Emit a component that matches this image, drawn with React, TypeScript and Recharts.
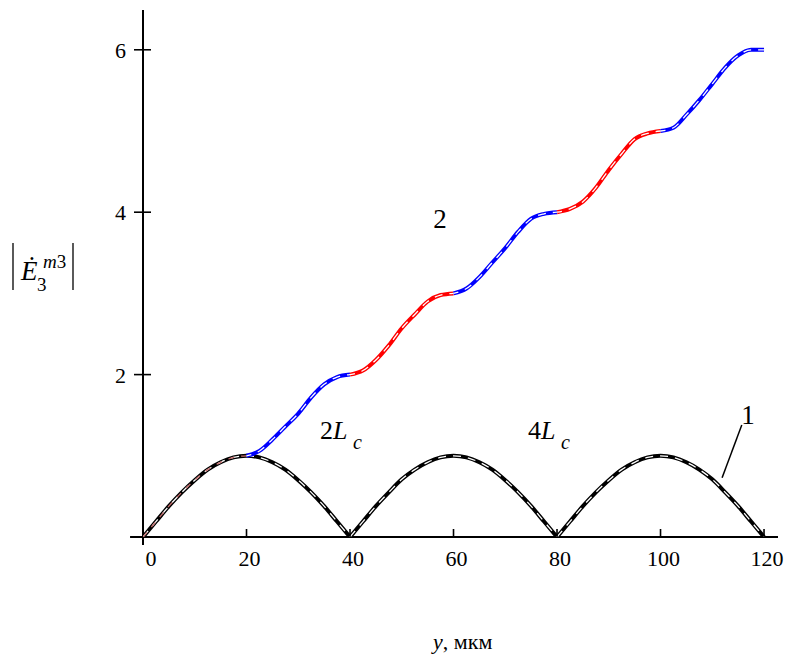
import React from "react";
import { LineChart, Line, XAxis, YAxis, ReferenceLine } from "recharts";

// Sample positions along y (µm)
const yMicrons = [0, 2.5, 5, 7.5, 10, 12.5, 15, 17.5, 20, 22.5, 25, 27.5, 30, 32.5, 35, 37.5, 40, 42.5, 45, 47.5, 50, 52.5, 55, 57.5, 60, 62.5, 65, 67.5, 70, 72.5, 75, 77.5, 80, 82.5, 85, 87.5, 90, 92.5, 95, 97.5, 100, 102.5, 105, 107.5, 110, 112.5, 115, 117.5, 120];

// Curve 1 (arches)
const curve1 = [0, 0.19, 0.38, 0.55, 0.7, 0.83, 0.92, 0.98, 1.0, 0.98, 0.92, 0.83, 0.7, 0.55, 0.38, 0.19, 0, 0.19, 0.38, 0.55, 0.71, 0.83, 0.92, 0.98, 1.0, 0.98, 0.92, 0.83, 0.7, 0.55, 0.38, 0.19, 0, 0.19, 0.38, 0.55, 0.7, 0.83, 0.92, 0.98, 1.0, 0.98, 0.92, 0.83, 0.71, 0.55, 0.38, 0.19, 0];

// Curve 2 (staircase), starts at y = 20
const curve2 = [null, null, null, null, null, null, null, null, 1.0, 1.06, 1.2, 1.36, 1.52, 1.72, 1.88, 1.97, 2.0, 2.05, 2.18, 2.36, 2.57, 2.74, 2.9, 2.98, 3.0, 3.06, 3.2, 3.38, 3.56, 3.76, 3.92, 3.98, 4.0, 4.04, 4.13, 4.3, 4.52, 4.72, 4.9, 4.97, 5.0, 5.04, 5.2, 5.38, 5.58, 5.78, 5.93, 6.0, 6.0];

const xTicks = [0, 20, 40, 60, 80, 100, 120];
const yTicks = [2, 4, 6];
const segColors = ["#0000ff", "#ff0000", "#0000ff", "#ff0000", "#0000ff"];
const archRanges = [[0, 40], [40, 80], [80, 120]];

const FONT = "Liberation Serif, DejaVu Serif, serif";
const serif: React.CSSProperties = { fontFamily: FONT };

const rows = yMicrons.map((y, i) => {
  const row: any = { y };
  archRanges.forEach(([lo, hi], k) => {
    if (y >= lo && y <= hi) row["a" + k] = curve1[i];
  });
  if (y <= 20) row.aPink = curve1[i];
  segColors.forEach((_, k) => {
    const lo = 20 + 20 * k;
    const hi = lo + 20;
    if (y >= lo && y <= hi && curve2[i] != null) row["s" + k] = curve2[i];
  });
  return row;
});

const XTick = (props: any) => {
  const { x, y, payload } = props;
  const dx = payload.value === 0 ? 8 : 3;
  return (
    <g>
      {payload.value !== 0 && (
        <line x1={x} y1={y - 8} x2={x} y2={y} stroke="#000" strokeWidth={1.6} />
      )}
      <text x={x + dx} y={y + 29} textAnchor="middle" fontSize={22} style={serif} fill="#000">
        {payload.value}
      </text>
    </g>
  );
};

const YTick = (props: any) => {
  const { x, y, payload } = props;
  return (
    <g>
      <line x1={x - 9} y1={y} x2={x + 8} y2={y} stroke="#000" strokeWidth={1.6} />
      <text x={x - 17} y={y + 8} textAnchor="end" fontSize={22} style={serif} fill="#000">
        {payload.value}
      </text>
    </g>
  );
};

export default function App() {
  const mainW = 4;
  const dashW = 1.3;
  return (
    <div style={{ position: "absolute", left: 0, top: 0, width: 808, height: 657, background: "#fff", fontFamily: FONT }}>
      <LineChart width={808} height={657} data={rows} margin={{ top: 10, right: 30, left: 83, bottom: 90 }}>
        <XAxis
          dataKey="y"
          type="number"
          domain={[0, 122.7]}
          ticks={xTicks}
          axisLine={false}
          tickLine={false}
          tickSize={0}
          tickMargin={0}
          tick={<XTick />}
          height={30}
          allowDataOverflow
        />
        <YAxis
          type="number"
          domain={[0, 6.49]}
          ticks={yTicks}
          axisLine={false}
          tickLine={false}
          tickSize={0}
          tickMargin={0}
          tick={<YTick />}
          width={60}
          allowDataOverflow
        />
        <ReferenceLine segment={[{ x: -2.5, y: 0 }, { x: 122.7, y: 0 }]} stroke="#000" strokeWidth={2} ifOverflow="visible" />
        <ReferenceLine segment={[{ x: 0, y: -0.1 }, { x: 0, y: 6.49 }]} stroke="#000" strokeWidth={2} ifOverflow="visible" />
        <ReferenceLine segment={[{ x: 111.9, y: 0.73 }, { x: 115.7, y: 1.38 }]} stroke="#000" strokeWidth={1.5} ifOverflow="visible" />

        {archRanges.map((_, k) => (
          <Line key={"a" + k} dataKey={"a" + k} type="monotone" stroke="#000" strokeWidth={mainW} dot={false} isAnimationActive={false} connectNulls={false} />
        ))}
        {archRanges.map((_, k) => (
          <Line key={"ad" + k} dataKey={"a" + k} type="monotone" stroke="#fff" strokeWidth={dashW} strokeDasharray="8 7" dot={false} isAnimationActive={false} />
        ))}
        <Line dataKey="aPink" type="monotone" stroke="#c87070" strokeWidth={dashW} strokeDasharray="6 7" dot={false} isAnimationActive={false} />

        {segColors.map((c, k) => (
          <Line key={"s" + k} dataKey={"s" + k} type="monotone" stroke={c} strokeWidth={mainW} dot={false} isAnimationActive={false} />
        ))}
        {segColors.map((c, k) => (
          <Line key={"sd" + k} dataKey={"s" + k} type="monotone" stroke="#fff" strokeWidth={dashW} strokeDasharray="8 7" strokeDashoffset={3} dot={false} isAnimationActive={false} />
        ))}
      </LineChart>

      <svg width={808} height={657} style={{ position: "absolute", left: 0, top: 0, pointerEvents: "none", fontFamily: FONT }}>
        {/* Y axis label |Ė3^m3| */}
        <line x1={13} y1={243} x2={13} y2={290} stroke="#000" strokeWidth={1.3} />
        <line x1={73} y1={243} x2={73} y2={290} stroke="#000" strokeWidth={1.3} />
        <text x={21} y={280} fontSize={27} fontStyle="italic" fill="#000" style={serif}>Ė</text>
        <text x={43} y={268} fontSize={19} fill="#000" style={serif}>
          <tspan fontStyle="italic">m</tspan>3
        </text>
        <text x={37} y={291} fontSize={19} fill="#000" style={serif}>3</text>

        {/* Annotations */}
        <text x={440} y={228} fontSize={27} textAnchor="middle" fill="#000" style={serif}>2</text>
        <text x={320} y={439} fontSize={26} fill="#000" style={serif}>
          2<tspan fontStyle="italic">L</tspan>
        </text>
        <text x={353} y={449} fontSize={20} fontStyle="italic" fill="#000" style={serif}>c</text>
        <text x={528} y={439} fontSize={26} fill="#000" style={serif}>
          4<tspan fontStyle="italic">L</tspan>
        </text>
        <text x={561} y={449} fontSize={20} fontStyle="italic" fill="#000" style={serif}>c</text>
        <text x={748} y={424} fontSize={27} textAnchor="middle" fill="#000" style={serif}>1</text>

        {/* X axis label */}
        <text x={433} y={649} fontSize={22} fill="#000" style={serif}>
          <tspan fontStyle="italic">y</tspan>, мкм
        </text>
      </svg>
    </div>
  );
}
